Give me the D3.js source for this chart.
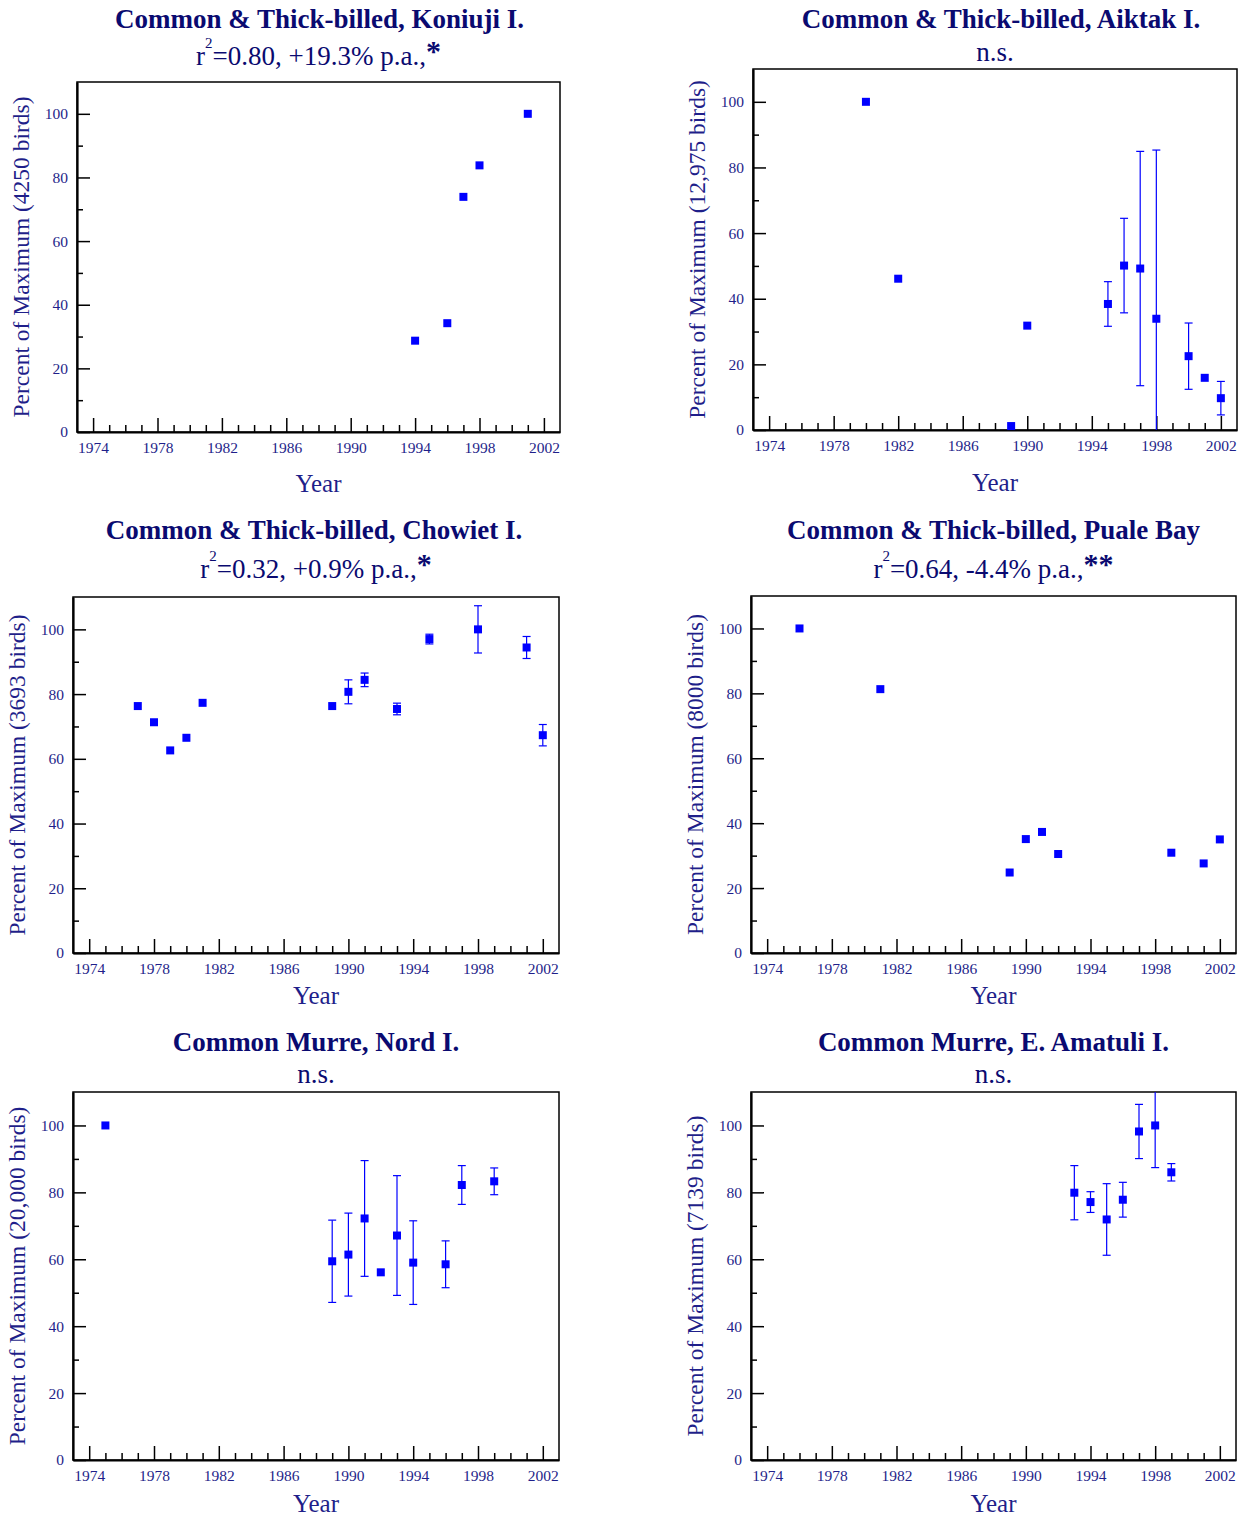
<!DOCTYPE html>
<html>
<head>
<meta charset="utf-8">
<script src="https://cdn.jsdelivr.net/npm/d3@7"></script>
<style>
  body { margin: 0; background: #fff; }
  svg { display: block; font-family: "Liberation Serif", "Times New Roman", serif; }
  .tick text { fill: #1f1f8a; font-size: 15.5px; font-family: "Liberation Serif", serif; }
  .tick line { stroke: #000; stroke-width: 1.5; }
</style>
</head>
<body>
<svg id="chart" width="1246" height="1517"></svg>
<script>
// murre colony trends — six small panels, percent of colony maximum by year
(function () {
  "use strict";

  // ---- data ----
  const TITLES = [
    "Common & Thick-billed, Koniuji I.",
    "Common & Thick-billed, Aiktak I.",
    "Common & Thick-billed, Chowiet I.",
    "Common & Thick-billed, Puale Bay",
    "Common Murre, Nord I.",
    "Common Murre, E. Amatuli I."
  ];
  const MAX_BIRDS = ["4250", "12,975", "3693", "8000", "20,000", "7139"];
  const STAT_R2   = ["0.80", null, "0.32", "0.64", null, null];
  const STAT_RATE = ["+19.3%", null, "+0.9%", "-4.4%", null, null];
  const STAT_SIG  = ["*", "n.s.", "*", "**", "n.s.", "n.s."];

  const YEAR_TICKS = [1974, 1978, 1982, 1986, 1990, 1994, 1998, 2002];
  const PCT_TICKS  = [0, 20, 40, 60, 80, 100];

  // Koniuji I.
  const koniujiYears = [1994, 1996, 1997, 1998, 2001];
  const koniujiPct   = [28.7, 34.2, 73.9, 83.8, 100];
  const koniujiErr   = [null, null, null, null, null];

  // Aiktak I.
  const aiktakYears = [1980, 1982, 1989, 1990, 1995, 1996, 1997, 1998, 2000, 2001, 2002];
  const aiktakPct   = [100, 46.1, 1.2, 31.8, 38.4, 50.1, 49.2, 33.9, 22.5, 15.9, 9.7];
  const aiktakErr   = [null, null, null, null, 6.8, 14.4, 35.7, 51.4, 10.1, null, 5.1];

  // Chowiet I.
  const chowietYears = [1977, 1978, 1979, 1980, 1981, 1989, 1990, 1991, 1993, 1995, 1998, 2001, 2002];
  const chowietPct   = [76.3, 71.3, 62.6, 66.5, 77.3, 76.3, 80.7, 84.4, 75.4, 97.0, 100, 94.4, 67.3];
  const chowietErr   = [null, null, null, null, null, null, 3.7, 2.1, 1.8, 1.5, 7.3, 3.4, 3.3];

  // Puale Bay
  const pualeYears = [1976, 1981, 1989, 1990, 1991, 1992, 1999, 2001, 2002];
  const pualePct   = [100, 81.3, 24.8, 35.1, 37.3, 30.5, 30.9, 27.6, 35.0];
  const pualeErr   = [null, null, null, null, null, null, null, null, null];

  // Nord I.
  const nordYears = [1975, 1989, 1990, 1991, 1992, 1993, 1994, 1996, 1997, 1999];
  const nordPct   = [100, 59.4, 61.4, 72.2, 56.1, 67.1, 59.0, 58.5, 82.2, 83.3];
  const nordErr   = [null, 12.3, 12.4, 17.3, null, 17.9, 12.5, 7.0, 5.8, 4.0];

  // E. Amatuli I.
  const amatuliYears = [1993, 1994, 1995, 1996, 1997, 1998, 1999];
  const amatuliPct   = [79.9, 77.1, 71.9, 77.8, 98.2, 100, 86.0];
  const amatuliErr   = [8.1, 3.1, 10.7, 5.2, 8.1, 12.6, 2.6];

  const SERIES = [
    [koniujiYears, koniujiPct, koniujiErr],
    [aiktakYears, aiktakPct, aiktakErr],
    [chowietYears, chowietPct, chowietErr],
    [pualeYears, pualePct, pualeErr],
    [nordYears, nordPct, nordErr],
    [amatuliYears, amatuliPct, amatuliErr]
  ];

  // ---- layout: plot boxes in page pixels, plus title baselines ----
  const BOXES = [
    { l: 77,  r: 560,  t: 82,   b: 432,  ty: 28,   sy: 65,   xy: 492,  dx: 1 },
    { l: 753, r: 1237, t: 69,   b: 430,  ty: 28,   sy: 61,   xy: 491,  dx: 6 },
    { l: 73,  r: 559,  t: 597,  b: 953,  ty: 539,  sy: 578,  xy: 1004, dx: -2 },
    { l: 751, r: 1236, t: 596,  b: 953,  ty: 539,  sy: 578,  xy: 1004, dx: 0 },
    { l: 73,  r: 559,  t: 1092, b: 1460, ty: 1051, sy: 1083, xy: 1512, dx: 0 },
    { l: 751, r: 1236, t: 1092, b: 1460, ty: 1051, sy: 1083, xy: 1512, dx: 0 }
  ];

  const NAVY = "#0a0a70";
  const LABEL = "#1f1f8a";
  const BLUE = "#0000ff";

  const svg = d3.select("#chart");

  BOXES.forEach(function (bx, i) {
    const years = SERIES[i][0], pct = SERIES[i][1], err = SERIES[i][2];
    const cx = (bx.l + bx.r) / 2;

    const x = d3.scaleLinear().domain([1973, 2003]).range([bx.l, bx.r]);
    const y = d3.scaleLinear().domain([0, 110]).range([bx.b, bx.t]);

    const g = svg.append("g");

    // clip for error bars running past the frame
    const cid = "clip" + i;
    svg.append("clipPath").attr("id", cid)
      .append("rect")
      .attr("x", bx.l).attr("y", bx.t)
      .attr("width", bx.r - bx.l).attr("height", bx.b - bx.t);

    // frame — top & right thinner
    g.append("rect")
      .attr("x", bx.l).attr("y", bx.t)
      .attr("width", bx.r - bx.l).attr("height", bx.b - bx.t)
      .attr("fill", "none").attr("stroke", "#000").attr("stroke-width", 1.5);

    // minor ticks (every year / every 10%)
    const minorYears = d3.range(1974, 2003).filter(function (v) { return YEAR_TICKS.indexOf(v) < 0; });
    g.append("g")
      .attr("transform", "translate(0," + bx.b + ")")
      .call(d3.axisBottom(x).tickValues(minorYears).tickSize(-7).tickFormat(""))
      .call(function (s) { s.select(".domain").remove(); });
    g.append("g")
      .attr("transform", "translate(" + bx.l + ",0)")
      .call(d3.axisLeft(y).tickValues([10, 30, 50, 70, 90]).tickSize(-6).tickFormat(""))
      .call(function (s) { s.select(".domain").remove(); });

    // major ticks + labels
    const xa = g.append("g")
      .attr("transform", "translate(0," + bx.b + ")")
      .call(d3.axisBottom(x).tickValues(YEAR_TICKS).tickSize(-14).tickPadding(10).tickSizeOuter(0).tickFormat(d3.format("d")));
    xa.select(".domain").attr("stroke", "#000").attr("stroke-width", 2.2);

    const ya = g.append("g")
      .attr("transform", "translate(" + bx.l + ",0)")
      .call(d3.axisLeft(y).tickValues(PCT_TICKS).tickSize(-13).tickPadding(9).tickSizeOuter(0));
    ya.select(".domain").attr("stroke", "#000").attr("stroke-width", 2.2);

    // axis titles
    g.append("text")
      .attr("x", cx).attr("y", bx.xy)
      .attr("text-anchor", "middle")
      .attr("fill", LABEL)
      .style("font-size", "25px")
      .text("Year");

    g.append("text")
      .attr("transform", "translate(" + (bx.l - 48) + "," + ((bx.t + bx.b) / 2) + ") rotate(-90)")
      .attr("text-anchor", "middle")
      .attr("fill", LABEL)
      .style("font-size", "23.5px")
      .text("Percent of Maximum (" + MAX_BIRDS[i] + " birds)");

    // title
    g.append("text")
      .attr("x", cx + bx.dx).attr("y", bx.ty)
      .attr("text-anchor", "middle")
      .attr("fill", NAVY)
      .style("font-size", "27px").style("font-weight", "bold")
      .text(TITLES[i]);

    // subtitle: regression stats or n.s.
    const sub = g.append("text")
      .attr("x", cx).attr("y", bx.sy)
      .attr("text-anchor", "middle")
      .attr("fill", NAVY)
      .style("font-size", "27px");
    if (STAT_R2[i] == null) {
      sub.text(STAT_SIG[i]);
    } else {
      sub.append("tspan").text("r");
      sub.append("tspan").attr("dy", -17).style("font-size", "15px").text("2");
      sub.append("tspan").attr("dy", 17).text("=" + STAT_R2[i] + ", " + STAT_RATE[i] + " p.a.,");
      sub.append("tspan").attr("dy", -4).style("font-weight", "bold").style("font-size", "30px").text(STAT_SIG[i]);
    }

    // error bars
    const eb = g.append("g").attr("clip-path", "url(#" + cid + ")")
      .attr("stroke", BLUE).attr("stroke-width", 1.2);
    years.forEach(function (yr, k) {
      const e = err[k];
      if (e == null) return;
      const px = x(yr);
      const lo = pct[k] - e, hi = pct[k] + e;
      eb.append("line")
        .attr("x1", px).attr("x2", px)
        .attr("y1", y(lo)).attr("y2", y(hi));
      [lo, hi].forEach(function (v) {
        if (v < 0 || v > 110) return;
        eb.append("line")
          .attr("x1", px - 4).attr("x2", px + 4)
          .attr("y1", y(v)).attr("y2", y(v));
      });
    });

    // points
    const S = 8;
    g.append("g").selectAll("rect")
      .data(years.map(function (yr, k) { return [yr, pct[k]]; }))
      .join("rect")
      .attr("x", function (d) { return x(d[0]) - S / 2; })
      .attr("y", function (d) { return y(d[1]) - S / 2; })
      .attr("width", S).attr("height", S)
      .attr("fill", BLUE);
  });
})();
</script>
</body>
</html>
